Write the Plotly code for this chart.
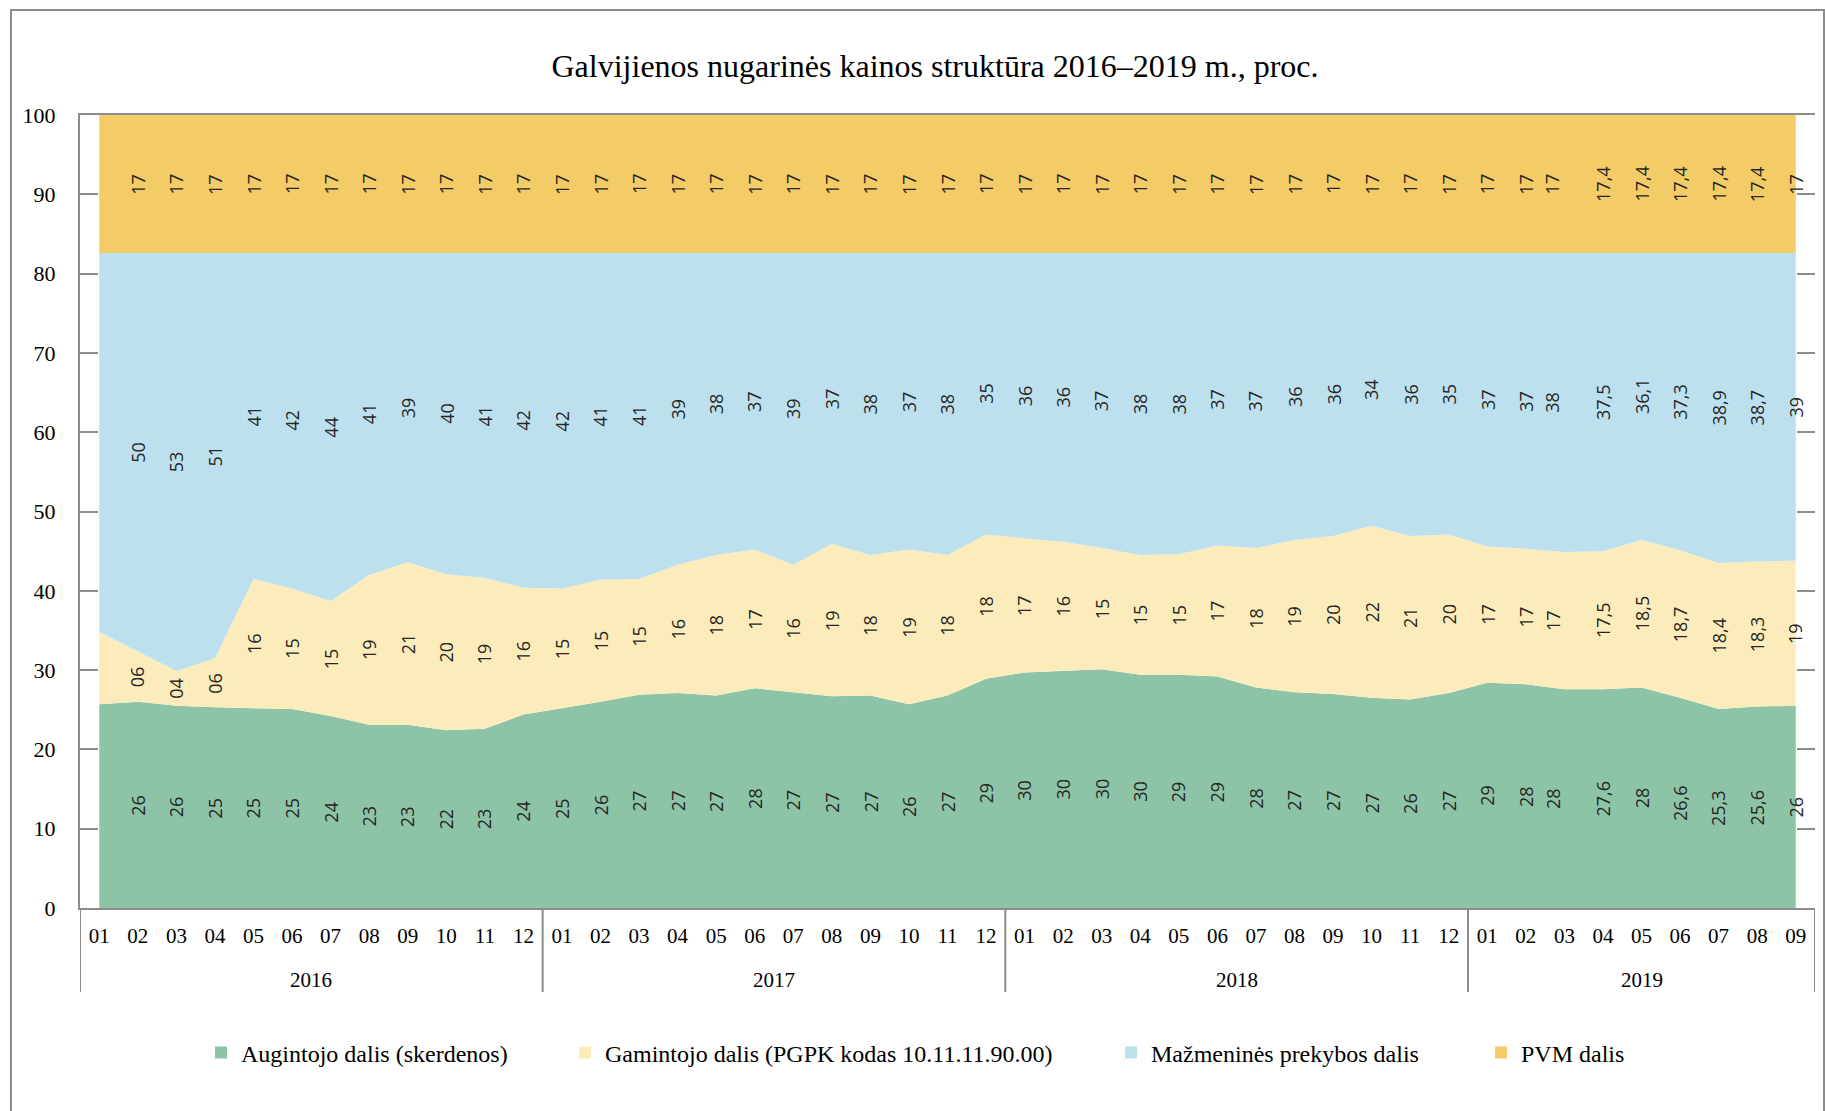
import plotly.graph_objects as go

# ---------------- data ----------------
months = ["01", "02", "03", "04", "05", "06", "07", "08", "09", "10", "11", "12",
          "01", "02", "03", "04", "05", "06", "07", "08", "09", "10", "11", "12",
          "01", "02", "03", "04", "05", "06", "07", "08", "09", "10", "11", "12",
          "01", "02", "03", "04", "05", "06", "07", "08", "09"]
years = ["2016", "2017", "2018", "2019"]
months_per_year = [12, 12, 12, 9]

grower = [25.7, 26.0, 25.5, 25.3, 25.2, 25.1, 24.2, 23.1, 23.1, 22.4, 22.6, 24.4,
          25.2, 26.0, 26.9, 27.1, 26.8, 27.7, 27.2, 26.7, 26.8, 25.7, 26.8, 28.9,
          29.7, 29.9, 30.1, 29.4, 29.4, 29.2, 27.8, 27.2, 27.0, 26.5, 26.3, 27.1,
          28.4, 28.2, 27.6, 27.6, 27.8, 26.5, 25.1, 25.4, 25.5]
producer = [9.1, 6.4, 4.4, 6.2, 16.3, 15.2, 14.5, 18.9, 20.5, 19.7, 19.0, 16.0,
            15.1, 15.4, 14.6, 16.2, 17.7, 17.5, 16.1, 19.2, 17.7, 19.5, 17.7, 18.2,
            16.9, 16.3, 15.3, 15.1, 15.2, 16.5, 17.6, 19.2, 19.9, 21.7, 20.6, 20.0,
            17.2, 17.1, 17.3, 17.4, 18.6, 18.6, 18.4, 18.3, 18.3]
retail = [47.8, 50.2, 52.7, 51.1, 41.1, 42.3, 43.9, 40.6, 39.0, 40.5, 41.0, 42.2,
          42.3, 41.2, 41.1, 39.3, 38.1, 37.4, 39.3, 36.7, 38.1, 37.4, 38.1, 35.5,
          36.0, 36.4, 37.2, 38.1, 38.0, 36.9, 37.2, 36.2, 35.7, 34.4, 35.7, 35.5,
          37.0, 37.3, 37.7, 37.6, 36.2, 37.5, 39.1, 38.9, 38.8]
vat = [17.4, 17.4, 17.4, 17.4, 17.4, 17.4, 17.4, 17.4, 17.4, 17.4, 17.4, 17.4,
       17.4, 17.4, 17.4, 17.4, 17.4, 17.4, 17.4, 17.4, 17.4, 17.4, 17.4, 17.4,
       17.4, 17.4, 17.4, 17.4, 17.4, 17.4, 17.4, 17.4, 17.4, 17.4, 17.4, 17.4,
       17.4, 17.4, 17.4, 17.4, 17.4, 17.4, 17.4, 17.4, 17.4]

grower_lbl = [None, "26", "26", "25", "25", "25", "24", "23", "23", "22", "23", "24",
              "25", "26", "27", "27", "27", "28", "27", "27", "27", "26", "27", "29",
              "30", "30", "30", "30", "29", "29", "28", "27", "27", "27", "26", "27",
              "29", "28", "28", "27,6", "28", "26,6", "25,3", "25,6", "26"]
producer_lbl = [None, "06", "04", "06", "16", "15", "15", "19", "21", "20", "19", "16",
                "15", "15", "15", "16", "18", "17", "16", "19", "18", "19", "18", "18",
                "17", "16", "15", "15", "15", "17", "18", "19", "20", "22", "21", "20",
                "17", "17", "17", "17,5", "18,5", "18,7", "18,4", "18,3", "19"]
retail_lbl = [None, "50", "53", "51", "41", "42", "44", "41", "39", "40", "41", "42",
              "42", "41", "41", "39", "38", "37", "39", "37", "38", "37", "38", "35",
              "36", "36", "37", "38", "38", "37", "37", "36", "36", "34", "36", "35",
              "37", "37", "38", "37,5", "36,1", "37,3", "38,9", "38,7", "39"]
vat_lbl = [None, "17", "17", "17", "17", "17", "17", "17", "17", "17", "17", "17",
           "17", "17", "17", "17", "17", "17", "17", "17", "17", "17", "17", "17",
           "17", "17", "17", "17", "17", "17", "17", "17", "17", "17", "17", "17",
           "17", "17", "17", "17,4", "17,4", "17,4", "17,4", "17,4", "17"]

series_names = ["Augintojo dalis (skerdenos)",
                "Gamintojo dalis (PGPK kodas 10.11.11.90.00)",
                "Mažmeninės prekybos dalis",
                "PVM dalis"]
title_text = "Galvijienos nugarinės kainos struktūra 2016–2019 m., proc."

# ---------------- style ----------------
colors = ["#8DC3A7", "#FDECBB", "#BDE0EE", "#F3CC68"]
axis_gray = "#8C8C8C"
serif = "Liberation Serif, Times New Roman, serif"
label_font = dict(family="Open Sans, sans-serif", size=18, color="#262626")
label_xshift = {38: -12}

W, H = 1825, 1111
ML, MR, MT, MB = 80, 10, 115, 203
PW, PH = W - ML - MR, H - MT - MB


def py(px_y):  # pixel y -> paper y
    return (H - MB - px_y) / PH


def pxx(px_x):  # pixel x -> paper x
    return (px_x - ML) / PW


legend_px = [201, 565, 1111, 1481]

x = list(range(len(months)))
values = [grower, producer, retail, vat]
labels = [grower_lbl, producer_lbl, retail_lbl, vat_lbl]

fig = go.Figure()
for name, vals, col in zip(series_names, values, colors):
    fig.add_trace(go.Scatter(x=x, y=vals, stackgroup="one", mode="lines",
                             line=dict(width=0, color=col), fillcolor=col,
                             name=name, showlegend=False))

# legend entries (one legend per entry so they can be placed like the original)
legend_ids = ["legend", "legend2", "legend3", "legend4"]
for name, col, lid in zip(series_names, colors, legend_ids):
    fig.add_trace(go.Scatter(x=[None], y=[None], mode="markers",
                             marker=dict(symbol="square", size=12, color=col),
                             name=name, legend=lid, showlegend=True,
                             hoverinfo="skip"))

# invisible trace for right-side tick axis
fig.add_trace(go.Scatter(x=[None], y=[None], yaxis="y2", showlegend=False,
                         hoverinfo="skip"))

# data labels at the centre of each band
annotations = []
base = [0.0] * len(x)
for vals, lbls in zip(values, labels):
    for i in x:
        if lbls[i] is not None:
            annotations.append(dict(
                x=i, y=base[i] + vals[i] / 2, xref="x", yref="y",
                text=lbls[i], showarrow=False, textangle=-90,
                xshift=label_xshift.get(i, 0),
                font=label_font))
        base[i] += vals[i]

# year labels and dividers
shapes = []
start = 0
divider_bottom = py(992)
shapes.append(dict(type="line", xref="x", yref="paper", x0=-0.5, x1=-0.5,
                   y0=0, y1=divider_bottom, line=dict(color=axis_gray, width=2)))
for yr, n in zip(years, months_per_year):
    end = start + n - 1
    annotations.append(dict(x=(start + end) / 2, y=py(980), xref="x", yref="paper",
                            text=yr, showarrow=False, yanchor="middle",
                            font=dict(family=serif, size=21, color="#000000")))
    shapes.append(dict(type="line", xref="x", yref="paper", x0=end + 0.5, x1=end + 0.5,
                       y0=0, y1=divider_bottom, line=dict(color=axis_gray, width=2)))
    start = end + 1

# outer frame
shapes.append(dict(type="rect", xref="paper", yref="paper",
                   x0=pxx(11), x1=pxx(1824), y0=py(1130), y1=py(10),
                   line=dict(color=axis_gray, width=2), fillcolor="rgba(0,0,0,0)",
                   layer="below"))

legends = {}
for lid, lpx in zip(legend_ids, legend_px):
    legends[lid] = dict(x=pxx(lpx), y=py(1053), xanchor="left", yanchor="middle",
                        orientation="h", bgcolor="rgba(0,0,0,0)", itemwidth=30,
                        font=dict(family=serif, size=24, color="#000000"))

fig.update_layout(
    width=W, height=H,
    margin=dict(l=ML, r=MR, t=MT, b=MB),
    paper_bgcolor="white", plot_bgcolor="white",
    title=dict(text=title_text, x=pxx(935), xref="paper", xanchor="center",
               y=1 - 66 / H, yanchor="middle",
               font=dict(family=serif, size=32, color="#000000")),
    xaxis=dict(range=[-0.5, len(x) - 0.5], tickmode="array", tickvals=x, ticktext=months,
               showgrid=False, zeroline=False, showline=True, linecolor=axis_gray,
               linewidth=2, mirror=True, ticks="", ticklabelstandoff=8,
               tickfont=dict(family=serif, size=21, color="#000000")),
    yaxis=dict(range=[0, 100], dtick=10, showgrid=False, zeroline=False,
               showline=True, linecolor=axis_gray, linewidth=2,
               ticks="inside", ticklen=18, tickwidth=2, tickcolor=axis_gray,
               ticklabelstandoff=18,
               tickfont=dict(family=serif, size=22, color="#000000")),
    yaxis2=dict(range=[0, 100], dtick=10, overlaying="y", side="right",
                showgrid=False, zeroline=False, showline=False,
                ticks="inside", ticklen=18, tickwidth=2, tickcolor=axis_gray,
                showticklabels=False),
    annotations=annotations,
    shapes=shapes,
    hovermode=False,
    **legends,
)

fig.write_html("out.html", config={"displayModeBar": False},
               post_script="document.body.style.margin='0';")
